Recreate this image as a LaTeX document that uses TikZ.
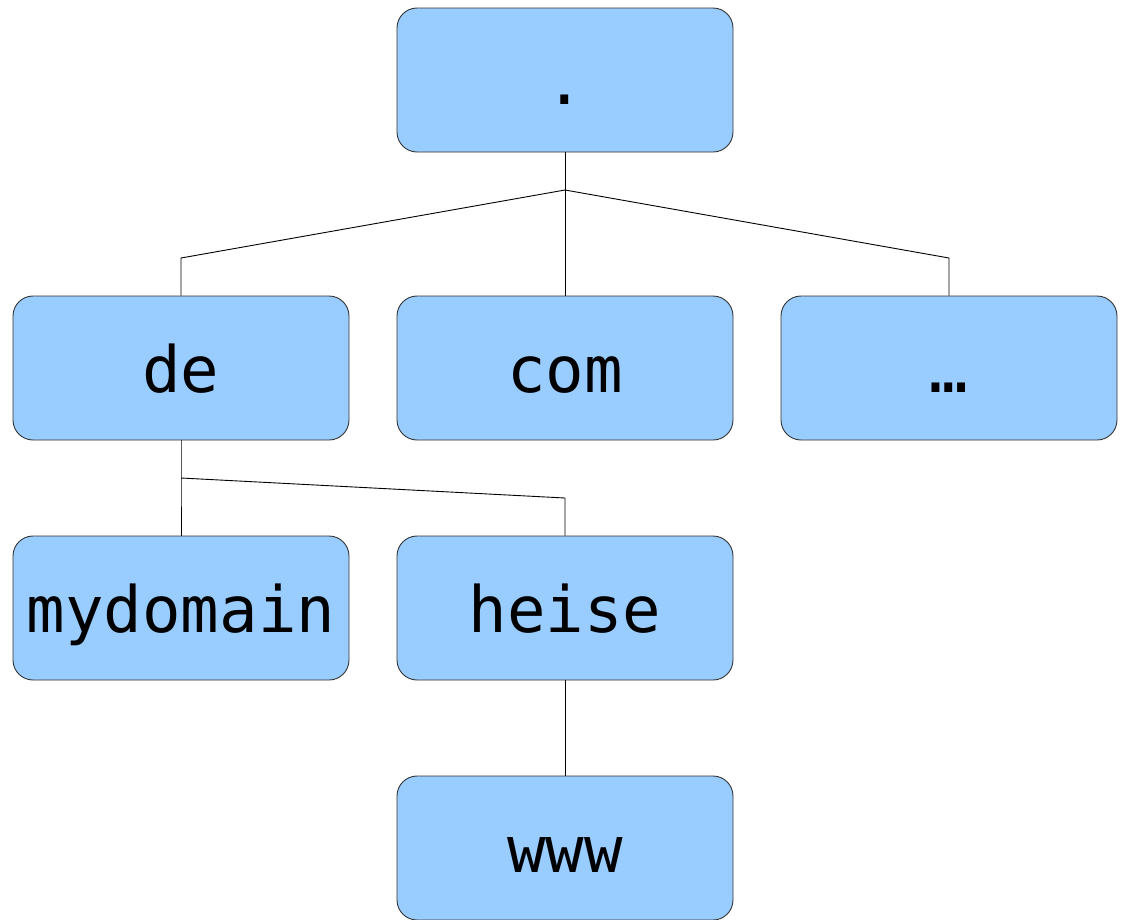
\documentclass[tikz,border=0pt]{standalone}
\usepackage{fontspec}
\setmonofont{DejaVu Sans Mono}
\definecolor{boxblue}{HTML}{99CCFF}
\begin{document}
\begin{tikzpicture}[x=1pt,y=-1pt,
  dnsbox/.style={draw=black!80, line width=0.9pt, fill=boxblue, rounded corners=20pt,
    minimum width=336pt, minimum height=144pt, inner sep=0pt,
    text height=48pt, text depth=0pt, font=\ttfamily\fontsize{64}{64}\selectfont},
  link/.style={draw=black, line width=0.9pt}]
\useasboundingbox (0,0) rectangle (1126,919);
\node[dnsbox] (root) at (565,80) {.};
\node[dnsbox] (de) at (181,368) {de};
\node[dnsbox] (com) at (565,368) {com};
\node[dnsbox] (etc) at (949,368) {…};
\node[dnsbox] (mydomain) at (181,608) {mydomain};
\node[dnsbox] (heise) at (565,608) {heise};
\node[dnsbox] (www) at (565,848) {www};
\coordinate (j1) at (565,190);
\coordinate (j2) at (181,478);
\draw[link] (root.south) -- (j1);
\draw[link] (j1) -- (181,258) -- (de.north);
\draw[link] (j1) -- (com.north);
\draw[link] (j1) -- (949,258) -- (etc.north);
\draw[link] (de.south) -- (j2) -- (mydomain.north);
\draw[link] (j2) -- (565,498) -- (heise.north);
\draw[link] (heise.south) -- (www.north);
\end{tikzpicture}
\end{document}
